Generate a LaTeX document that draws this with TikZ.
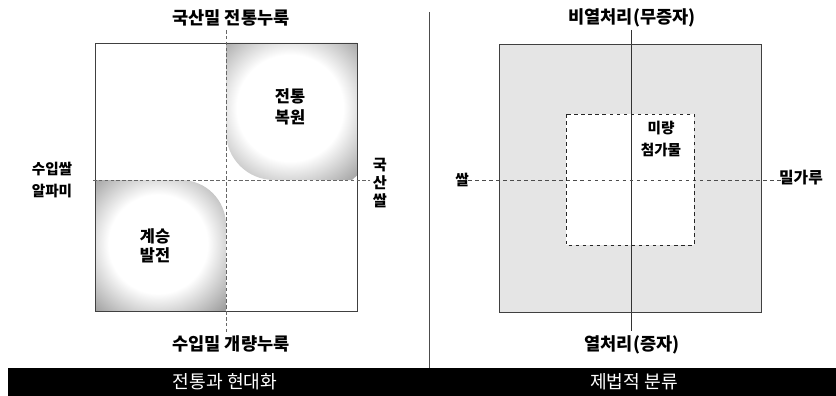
\documentclass[tikz,border=0pt]{standalone}
\usepackage{fontspec}
\setmainfont{Noto Sans CJK KR}
\pgfdeclareradialshading{softdot}{\pgfpoint{0bp}{0bp}}{color(0bp)=(white); color(13bp)=(white); color(25bp)=(gray!80); color(50bp)=(gray!80)}
\pgfdeclareradialshading{softdotlight}{\pgfpoint{0bp}{0bp}}{color(0bp)=(white); color(14bp)=(white); color(25bp)=(gray!70); color(50bp)=(gray!70)}
\begin{document}
\begin{tikzpicture}[x=0.03cm,y=-0.03cm,
  lab/.style={font=\fontsize{15}{17}\selectfont\bfseries, inner sep=0pt, align=center},
  sidelab/.style={inner sep=0pt, align=center},
  inlab/.style={inner sep=0pt, align=center},
  barlab/.style={font=\fontsize{15.5}{17}\selectfont, text=white, inner sep=0pt},
  boxline/.style={draw=black!75, line width=0.6pt},
  dotaxis/.style={draw=black!60, densely dashed, line width=0.4pt},
  dashaxis/.style={draw=black!70, dashed, line width=0.45pt},
  solidaxis/.style={draw=black!80, line width=0.5pt}]
\useasboundingbox (0,0) rectangle (836,396);

% ---------- left panel ----------
\begin{scope}
  \clip (226,43) -- (357,43) -- (357,180) -- (274,180) .. controls (247.5,180) and (226,158.5) .. (226,132) -- cycle;
  \shade[shading=softdotlight] (290,108) circle (2.85cm);
\end{scope}
\begin{scope}
  \clip (95,180) -- (181,180) .. controls (205.8,180) and (226,200.2) .. (226,225) -- (226,311) -- (95,311) -- cycle;
  \shade[shading=softdot] (158,244) circle (2.85cm);
\end{scope}
\draw[boxline] (95,43) rectangle (357,311);

\coordinate (lt) at (226,30);
\coordinate (lb) at (226,333);
\coordinate (ll) at (93,180);
\coordinate (lr) at (370,180);
\draw[dotaxis] (lt) -- (lb);
\draw[dotaxis] (ll) -- (lr);

\node[lab] (ltop) at (231,18) {국산밀 전통누룩};
\node[lab] (lbot) at (231,344) {수입밀 개량누룩};
\node[sidelab, font=\fontsize{12.5}{19.5}\selectfont\bfseries] (lleft) at (52,180) {수입쌀\\알파미};
\node[sidelab, font=\fontsize{13}{15.5}\selectfont\bfseries] (lright) at (380,183) {국\\산\\쌀};
\node[inlab, font=\fontsize{14}{18}\selectfont\bfseries] (trad) at (290,107) {전통\\복원};
\node[inlab, font=\fontsize{14}{16}\selectfont\bfseries] (inh) at (155,246) {계승\\발전};

% ---------- right panel ----------
\fill[gray!20] (499,44) rectangle (761,312);
\fill[white] (566,114) rectangle (694,245);
\coordinate (rt) at (631,30);
\coordinate (rb) at (631,331);
\coordinate (rl) at (468,180);
\coordinate (rr) at (781,180);
\draw[solidaxis] (rt) -- (rb);
\draw[dashaxis] (rl) -- (rr);
\draw[draw=black!85, dashed, line width=0.7pt] (566,114) rectangle (694,245);
\draw[boxline] (499,44) rectangle (761,312);

\node[lab] (rtop) at (632,18) {비열처리(무증자)};
\node[lab] (rbot) at (632,345) {열처리(증자)};
\node[sidelab, font=\fontsize{12.5}{15}\selectfont\bfseries] (rleft) at (462,180) {쌀};
\node[sidelab, font=\fontsize{13.5}{15}\selectfont\bfseries] (rright) at (801,178) {밀가루};
\node[inlab, font=\fontsize{12.5}{19}\selectfont\bfseries] (trace) at (661,139) {미량\\첨가물};

% ---------- divider and bar ----------
\coordinate (dt) at (429,12);
\coordinate (db) at (429,368);
\draw[draw=black!70, line width=0.5pt] (dt) -- (db);
\fill[black] (8,368) rectangle (836,396);
\node[barlab] (bl) at (225,382) {전통과 현대화};
\node[barlab] (br) at (634,382) {제법적 분류};
\end{tikzpicture}
\end{document}
